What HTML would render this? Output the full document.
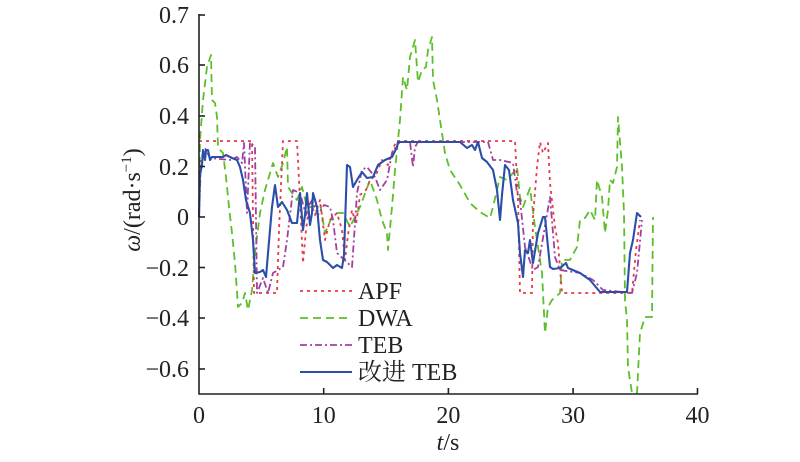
<!DOCTYPE html>
<html><head><meta charset="utf-8"><style>
html,body{margin:0;padding:0;background:#fff;}
svg{display:block;}
text{font-family:"Liberation Serif","Noto Serif CJK SC",serif;fill:#222;}
</style></head><body>
<svg width="800" height="462" viewBox="0 0 800 462" xmlns="http://www.w3.org/2000/svg">
<g fill="none" stroke-linejoin="round">
<polyline stroke="#5cbf2a" stroke-width="1.8" stroke-dasharray="8,5" points="199,217 200,140 203,100 207,67 211,55 212,100 215,103 217,117 218,148 223,153 226,177 229,207 232,233 235,263 238,307 242,303 245,293 248,310 252,290 255,253 260,213 265,190 273,163 278,177 283,163 287,147 288,187 292,193 297,200 302,187 307,207 313,207 320,203 325,233 332,217 337,213 343,213 350,227 360,207 370,180 377,200 382,220 387,233 388,250 392,207 395,170 400,120 403,77 407,90 410,57 415,40 418,82 422,70 426,67 428,50 432,37 433,80 437,100 440,120 445,153 450,170 460,185 470,203 480,212 490,218 493,207 500,177 507,180 513,173 517,167 520,197 523,207 530,188 535,227 538,247 542,273 545,333 548,307 552,300 560,293 562,260 570,260 577,247 580,220 585,218 590,210 595,220 597,180 602,197 605,233 608,210 610,180 613,183 617,167 618,117 622,167 624,213 625,300 627,320 628,367 632,393 637,393 640,333 645,317 652,317 653,217"/>
<polyline stroke="#e8384a" stroke-width="1.8" stroke-dasharray="3,4" points="199,141 252,141 254,293 277,293 279,230 283,141 297,141 300,200 303,263 306,230 310,200 315,215 320,200 325,240 330,220 337,213 342,230 345,260 348,235 352,210 356,225 360,195 366,190 370,180 376,175 382,160 388,165 393,150 396,141 515,141 518,200 520,293 532,293 533,217 537,167 540,142 543,153 548,143 550,183 555,227 558,243 562,293 632,293 636,250 640,220"/>
<polyline stroke="#a040a0" stroke-width="1.8" stroke-dasharray="7,3,2,3" points="199,217 201,160 205,148 210,158 230,160 237,157 242,163 244,143 247,213 250,142 255,147 257,293 263,278 268,293 273,273 283,267 287,240 293,190 300,193 306,215 312,200 318,215 324,205 330,207 333,220 337,253 352,267 353,253 357,193 362,170 367,167 375,177 380,190 387,180 392,153 397,145 400,142 410,142 413,167 415,147 418,142 473,142 488,142 493,160 500,160 513,163 517,193 520,200 525,247 533,270 538,267 550,197 555,257 560,270 580,273 593,280 603,290 632,293 637,273 642,220"/>
<polyline stroke="#2a4fa8" stroke-width="2.1" points="199,217 200,175 202,165 203,150 205,160 206,150 208,150 210,160 212,157 223,157 226,155 232,158 237,160 240,167 243,180 246,200 250,213 253,240 255,273 260,272 263,270 266,277 268,253 270,230 272,207 275,185 278,207 282,202 287,210 292,223 297,223 300,193 303,230 305,215 307,193 310,225 312,213 313,193 317,207 320,240 323,260 327,262 333,268 337,265 342,268 344,255 347,165 350,167 353,187 357,180 362,172 367,178 373,177 378,165 385,160 392,157 397,147 398,142 460,142 467,148 472,145 475,150 478,142 482,158 487,162 493,170 497,190 500,220 502,195 505,165 509,170 513,200 518,223 520,253 523,277 525,250 528,253 530,240 533,263 538,233 543,217 545,217 550,267 553,269 560,268 566,263 568,268 580,273 590,280 600,292 627,292 630,253 633,240 637,213 641,217"/>
</g>
<g stroke="#222" stroke-width="1.6" fill="none">
<polyline points="199,14 199,394 698,394"/>
<line x1="199" y1="15" x2="205" y2="15"/>
<line x1="199" y1="65" x2="205" y2="65"/>
<line x1="199" y1="116" x2="205" y2="116"/>
<line x1="199" y1="166.5" x2="205" y2="166.5"/>
<line x1="199" y1="217" x2="205" y2="217"/>
<line x1="199" y1="267.5" x2="205" y2="267.5"/>
<line x1="199" y1="318" x2="205" y2="318"/>
<line x1="199" y1="369" x2="205" y2="369"/>
<line x1="323.7" y1="394" x2="323.7" y2="388"/>
<line x1="448.4" y1="394" x2="448.4" y2="388"/>
<line x1="573.1" y1="394" x2="573.1" y2="388"/>
<line x1="697.5" y1="394" x2="697.5" y2="388"/>
</g>
<g font-size="24" text-anchor="end">
<text x="189" y="23">0.7</text>
<text x="189" y="73">0.6</text>
<text x="189" y="124">0.4</text>
<text x="189" y="175">0.2</text>
<text x="189" y="225">0</text>
<text x="189" y="276">−0.2</text>
<text x="189" y="326">−0.4</text>
<text x="189" y="377">−0.6</text>
</g>
<g font-size="24" text-anchor="middle">
<text x="199" y="423">0</text>
<text x="323.7" y="423">10</text>
<text x="448.4" y="423">20</text>
<text x="573.1" y="423">30</text>
<text x="697.5" y="423">40</text>
<text x="448" y="450"><tspan font-style="italic">t</tspan>/s</text>
</g>
<text font-size="24" text-anchor="middle" transform="translate(140,200) rotate(-90)"><tspan font-style="italic">ω</tspan>/(rad·s<tspan font-size="15" dy="-9">−1</tspan><tspan dy="9">)</tspan></text>
<g fill="none" stroke-width="1.8">
<line x1="300" y1="291" x2="352" y2="291" stroke="#e8384a" stroke-dasharray="3,4"/>
<line x1="300" y1="318" x2="352" y2="318" stroke="#5cbf2a" stroke-dasharray="8,5"/>
<line x1="300" y1="345" x2="352" y2="345" stroke="#a040a0" stroke-dasharray="7,3,2,3"/>
<line x1="300" y1="372" x2="352" y2="372" stroke="#2a4fa8" stroke-width="2.1"/>
</g>
<g font-size="24">
<text x="358" y="299">APF</text>
<text x="358" y="326">DWA</text>
<text x="358" y="353">TEB</text>
<text x="358" y="380">改进 TEB</text>
</g>
</svg>
</body></html>
